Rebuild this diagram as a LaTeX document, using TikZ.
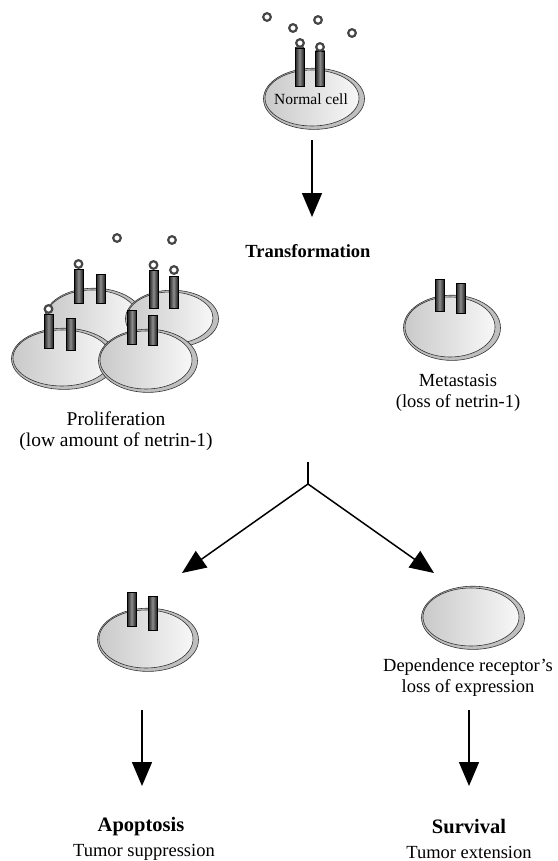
\documentclass[tikz,border=0pt]{standalone}
\usepackage{fontspec}
\setmainfont{Liberation Serif}
\usetikzlibrary{arrows.meta}
\newcommand\mycell[4]{%
  \fill[gray!50, draw=black!80, line width=0.6pt] ({#1+2},{#2+0.8}) ellipse [x radius=#3pt+3.5pt, y radius=#4pt+2.6pt];
  \shade[left color=gray!42, right color=gray!6, draw=black!80, line width=0.6pt] (#1,#2) ellipse [x radius=#3pt, y radius=#4pt];
}
\newcommand\myrec[3]{%
  \shade[left color=black!88, right color=black!88, middle color=black!45, draw=black, line width=0.5pt] ({#1-4.5},#2) rectangle ({#1+4.5},#3);
}
\newcommand\mylig[2]{%
  \draw[gray!55!black, line width=2.2pt, fill=white] (#1,#2) circle[radius=3.8pt];
}
\tikzset{
  lbl/.style={font=\fontsize{18.5}{21}\selectfont, align=center, inner sep=0pt},
  hd/.style={font=\fontsize{20.5}{22}\selectfont\bfseries, align=center, inner sep=0pt},
  arr/.style={line width=1.5pt, -{Triangle[length=24pt,width=20pt]}},
  ln/.style={line width=1.5pt}
}
\begin{document}
\begin{tikzpicture}[x=1pt,y=-1pt]
\useasboundingbox[fill=white] (0,0) rectangle (557,861);
% free ligands top
\mylig{267}{17}\mylig{293}{28}\mylig{318}{20}\mylig{352}{33}
% normal cell
\mycell{312}{98}{47}{28}
\myrec{299.5}{48}{86}\myrec{320}{51}{86}
\mylig{300}{43}\mylig{320}{47}
\node[lbl, font=\fontsize{15.5}{17}\selectfont] (nct) at (311,99) {Normal cell};
% arrow 1
\coordinate (a1s) at (312,140);
\coordinate (a1e) at (312,217);
\draw[arr] (a1s) -- (a1e);
\node[hd, font=\fontsize{18.5}{21}\selectfont\bfseries] (tr) at (308,251) {Transformation};
% proliferation cluster
\mylig{117}{238}\mylig{172}{240}
\mycell{92}{318}{46}{28}
\myrec{78.5}{269}{303}\myrec{100.5}{274}{303}
\mylig{78.5}{264}
\mycell{170}{318}{43}{26}
\myrec{153.5}{270}{308}\myrec{173.5}{276}{308}
\mylig{153.5}{265}\mylig{174}{270}
\mycell{62}{358}{49}{28}
\myrec{48.5}{314}{348}\myrec{70.5}{318}{350}
\mylig{48.5}{309}
\mycell{146}{360}{46}{29}
\myrec{132}{310}{344}\myrec{152.5}{315}{345}
\node[lbl, font=\fontsize{19.5}{21}\selectfont] (pro) at (116,431) {Proliferation\\(low amount of netrin-1)};
% metastasis cell
\mycell{450}{327}{45}{30}
\myrec{439.5}{279}{311}\myrec{460.5}{283}{313}
\node[lbl] (met) at (458,393) {Metastasis\\(loss of netrin-1)};
% branch
\coordinate (bs) at (308,462);
\coordinate (bj) at (308,484);
\coordinate (bl) at (182,573);
\coordinate (br) at (434,573);
\draw[ln] (bs) -- (bj);
\draw[arr] (bj) -- (bl);
\draw[arr] (bj) -- (br);
% apoptosis cell
\mycell{146}{639}{47}{29}
\myrec{131.5}{592}{626}\myrec{152.5}{596}{630}
% survival cell
\mycell{471}{617}{48}{29}
\node[lbl] (dep) at (468,678) {Dependence receptor's\\loss of expression};
% bottom arrows
\coordinate (lbs) at (142,710);
\coordinate (lbe) at (142,786);
\coordinate (rbs) at (469,710);
\coordinate (rbe) at (469,786);
\draw[arr] (lbs) -- (lbe);
\draw[arr] (rbs) -- (rbe);
\node[hd] (apo) at (141,827) {Apoptosis};
\node[lbl] (apo2) at (144,852) {Tumor suppression};
\node[hd] (sur) at (469,827) {Survival};
\node[lbl] (sur2) at (469,852) {Tumor extension};
\end{tikzpicture}
\end{document}
